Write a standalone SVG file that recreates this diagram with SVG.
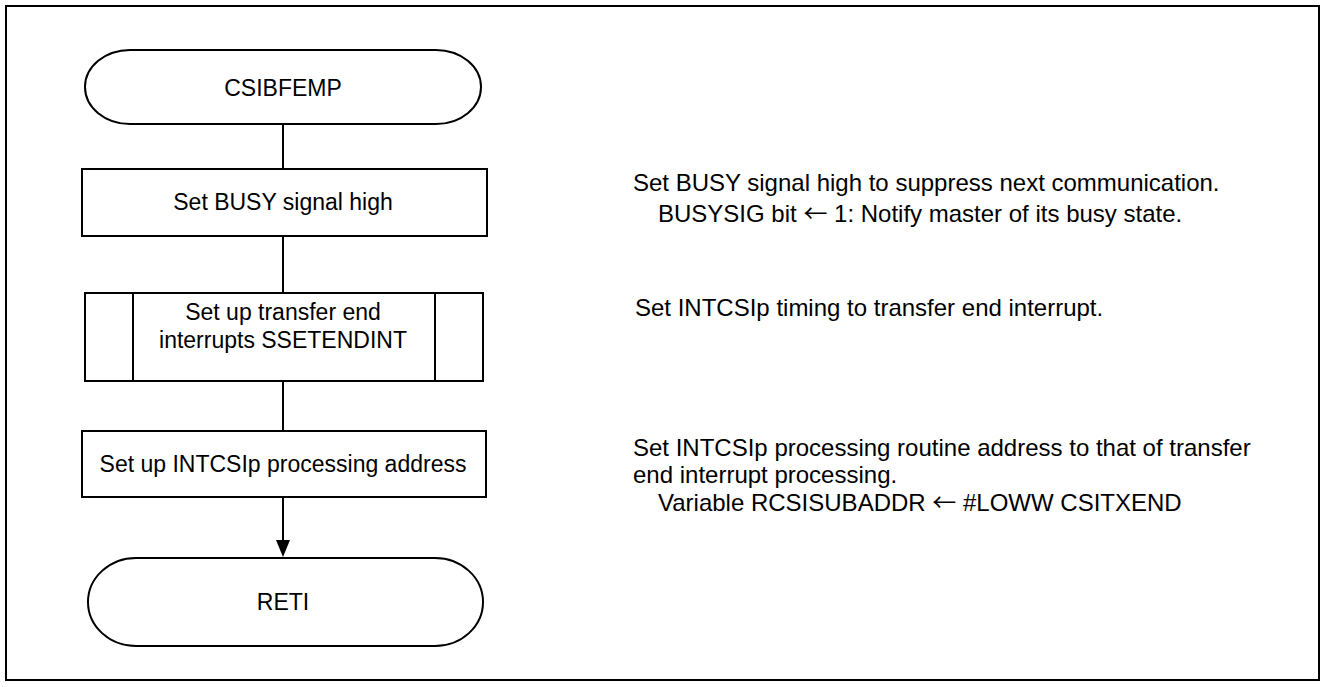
<svg xmlns="http://www.w3.org/2000/svg" width="1326" height="687" viewBox="0 0 1326 687">
<defs>
<style>
.s{fill:#fff;stroke:#000;stroke-width:2}
.l{stroke:#000;stroke-width:2;fill:none}
.t{font-family:"Liberation Sans",Arial,sans-serif;font-size:23px;fill:#000}
.n{font-family:"Liberation Sans",Arial,sans-serif;font-size:24px;fill:#000}
.c{text-anchor:middle}
.ar{font-family:"Noto Sans CJK JP","Liberation Sans",sans-serif}
</style>
</defs>
<rect x="0" y="0" width="1326" height="687" fill="#fff"/>
<rect x="6" y="6" width="1313" height="674" class="s"/>
<g id="connectors">
<line x1="283" y1="124" x2="283" y2="169" class="l"/>
<line x1="283" y1="236" x2="283" y2="293" class="l"/>
<line x1="283" y1="381" x2="283" y2="431" class="l"/>
<line x1="283" y1="497" x2="283" y2="541" class="l"/>
<path d="M276,540 L290,540 L283,557 Z" fill="#000"/>
</g>
<g id="start">
<rect x="85" y="50" width="396" height="74" rx="45" ry="37" class="s"/>
<text x="283" y="96" class="t c">CSIBFEMP</text>
</g>
<g id="busy">
<rect x="82" y="169" width="405" height="67" class="s"/>
<text x="283" y="210" class="t c">Set BUSY signal high</text>
</g>
<g id="setendint">
<rect x="85" y="293" width="398" height="88" class="s"/>
<line x1="133" y1="293" x2="133" y2="381" class="l"/>
<line x1="435" y1="293" x2="435" y2="381" class="l"/>
<text x="283" y="320" class="t c">Set up transfer end</text>
<text x="283" y="348" class="t c">interrupts SSETENDINT</text>
</g>
<g id="addr">
<rect x="82" y="431" width="404" height="66" class="s"/>
<text x="283" y="472" class="t c">Set up INTCSIp processing address</text>
</g>
<g id="reti">
<rect x="88" y="558" width="395" height="88" rx="48" ry="44" class="s"/>
<text x="283" y="610" class="t c">RETI</text>
</g>
<g id="notes">
<text x="633" y="191" class="n">Set BUSY signal high to suppress next communication.</text>
<text x="658" y="222" class="n">BUSYSIG bit <tspan class="ar">←</tspan> 1: Notify master of its busy state.</text>
<text x="635" y="316" class="n">Set INTCSIp timing to transfer end interrupt.</text>
<text x="633" y="456" class="n">Set INTCSIp processing routine address to that of transfer</text>
<text x="633" y="483" class="n">end interrupt processing.</text>
<text x="658" y="511" class="n">Variable RCSISUBADDR <tspan class="ar">←</tspan> #LOWW CSITXEND</text>
</g>
</svg>
